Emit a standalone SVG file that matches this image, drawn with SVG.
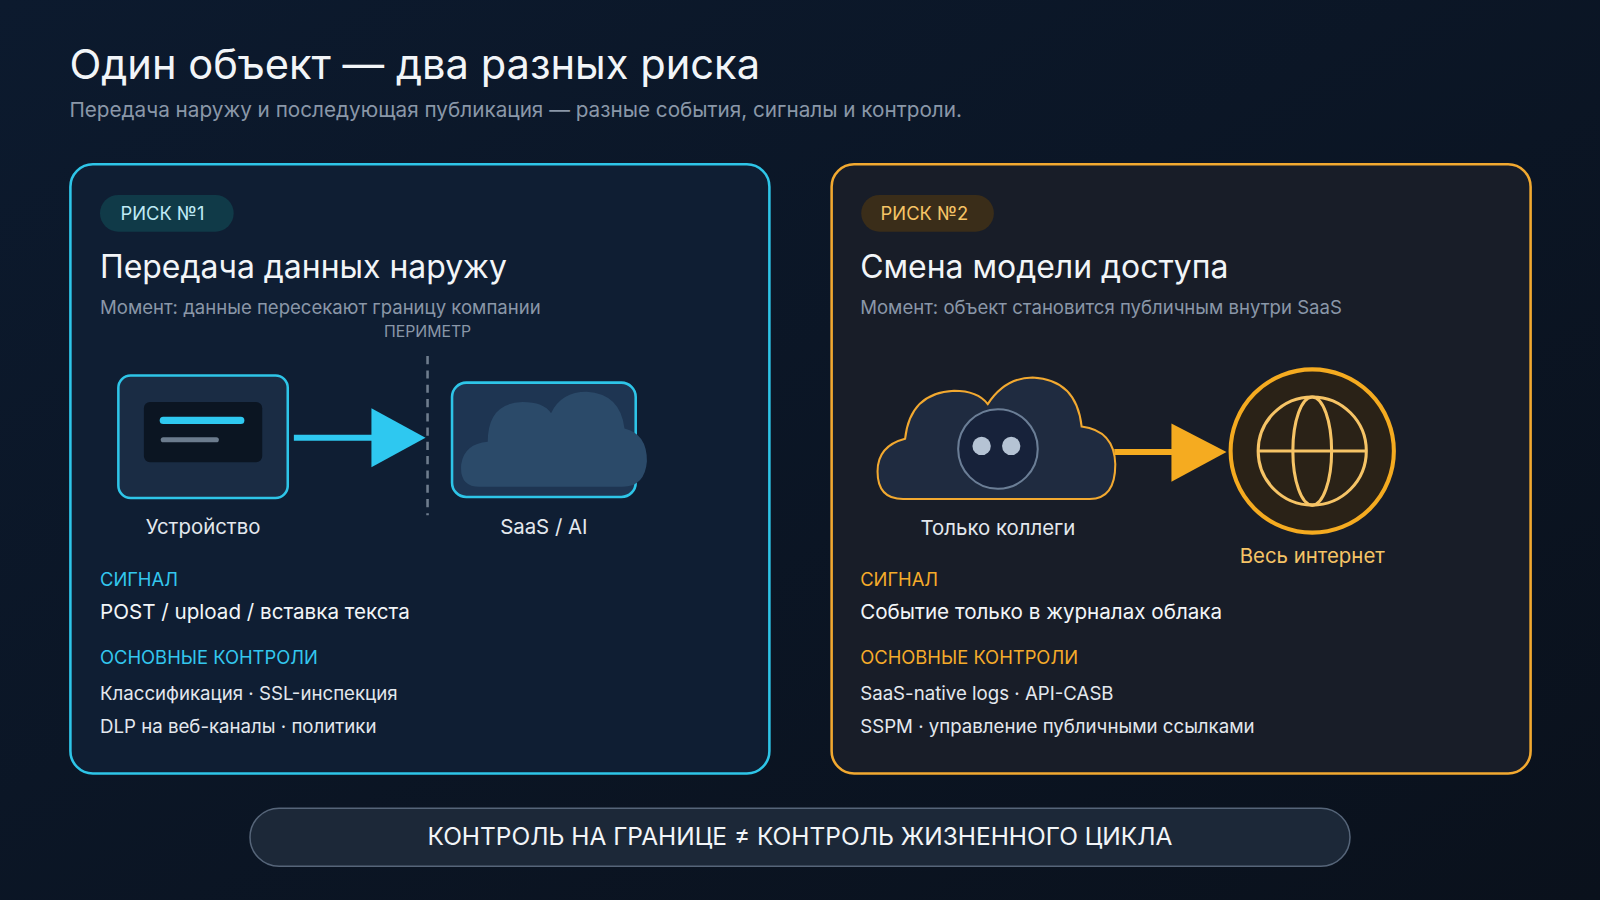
<svg xmlns="http://www.w3.org/2000/svg" width="1600" height="900" viewBox="0 0 1600 900">
<defs>
<linearGradient id="bg" x1="0" y1="0" x2="1" y2="1"><stop offset="0" stop-color="#0c1a2e"/><stop offset="1" stop-color="#0a111c"/></linearGradient>
<style>
text{font-family:"Inter","Liberation Sans",sans-serif}
.t{fill:#f2f5f8}.g{fill:#8a97a8}.c{fill:#33c7ee}.o{fill:#f5ab2a}.w{fill:#e3e8ee}
</style>
</defs>
<rect width="1600" height="900" fill="url(#bg)"/>
<g transform="scale(1.0204)">
<text x="68" y="77" font-size="40.8" class="t">Один объект — два разных риска</text>
<text x="68" y="115" font-size="20.3" class="g">Передача наружу и последующая публикация — разные события, сигналы и контроли.</text>

<g id="card1">
<rect x="69" y="161" width="685" height="597" rx="22" fill="#0f1e33" stroke="#2ec5e8" stroke-width="2.5"/>
<rect x="98" y="191" width="131" height="36" rx="18" fill="#103a48"/>
<text x="118" y="216" font-size="18" fill="#bfe9f5">РИСК №1</text>
<text x="98" y="272" font-size="31.3" class="t">Передача данных наружу</text>
<text x="98" y="308" font-size="18.2" class="g">Момент: данные пересекают границу компании</text>
<text x="419" y="330" font-size="15.5" class="g" text-anchor="middle">ПЕРИМЕТР</text>
<line x1="419" y1="349" x2="419" y2="505" stroke="#6f7d8e" stroke-width="2.5" stroke-dasharray="8 6"/>
<text x="98" y="574" font-size="18" class="c">СИГНАЛ</text>
<text x="98" y="607" font-size="20.2" class="t">POST / upload / вставка текста</text>
<text x="98" y="651" font-size="18" class="c">ОСНОВНЫЕ КОНТРОЛИ</text>
<text x="98" y="686" font-size="18.3" class="w">Классификация · SSL-инспекция</text>
<text x="98" y="718" font-size="18.3" class="w">DLP на веб-каналы · политики</text>
</g>
<g id="card2">
<rect x="815" y="161" width="685" height="597" rx="22" fill="#181d28" stroke="#f2a930" stroke-width="2.5"/>
<rect x="844" y="191" width="130" height="36" rx="18" fill="#3a2d19"/>
<text x="863" y="216" font-size="18" fill="#f6c466">РИСК №2</text>
<text x="843" y="272" font-size="31.3" class="t">Смена модели доступа</text>
<text x="843" y="308" font-size="18.2" class="g">Момент: объект становится публичным внутри SaaS</text>
<text x="843" y="574" font-size="18" class="o">СИГНАЛ</text>
<text x="843" y="607" font-size="20.2" class="t">Событие только в журналах облака</text>
<text x="843" y="651" font-size="18" class="o">ОСНОВНЫЕ КОНТРОЛИ</text>
<text x="843" y="686" font-size="18.3" class="w">SaaS-native logs · API-CASB</text>
<text x="843" y="718" font-size="18.3" class="w">SSPM · управление публичными ссылками</text>
</g>
<g id="device">
<rect x="116" y="368" width="166" height="120" rx="12" fill="#1a2c44" stroke="#2ec5e8" stroke-width="2.5"/>
<rect x="141" y="394" width="116" height="59" rx="6" fill="#0b1522"/>
<line x1="160" y1="412" x2="236" y2="412" stroke="#2ec8f0" stroke-width="7" stroke-linecap="round"/>
<line x1="160" y1="431" x2="212" y2="431" stroke="#6c7c8e" stroke-width="5" stroke-linecap="round"/>
<text x="199" y="523" font-size="20" class="w" text-anchor="middle">Устройство</text>
</g>
<g id="saas">
<rect x="443" y="375" width="180" height="112" rx="14" fill="#1e3552" stroke="#2ec5e8" stroke-width="2.5"/>
<path d="M470 477 Q450 477 452 455 Q455 435 478 433 Q478 395 512 394 Q533 394 540 405 Q550 384 575 384 Q608 386 612 420 Q634 425 634 452 Q632 477 610 477 Z" fill="#2b4a69"/>
<text x="533" y="523" font-size="20" class="w" text-anchor="middle">SaaS / AI</text>
</g>
<g id="cloud2">
<path d="M885 489 Q860 489 860 462 Q860 437 887 430 Q892 385 935 383 Q958 383 968 396 Q985 370 1012 370 Q1055 372 1060 418 Q1092 422 1093 455 Q1093 489 1068 489 Z" fill="#1f2b40" stroke="#f2a930" stroke-width="2"/>
<circle cx="978" cy="440" r="39" fill="#17223a" stroke="#6b7e96" stroke-width="2"/>
<circle cx="962" cy="437" r="9" fill="#b5c3d4"/>
<circle cx="991" cy="437" r="9" fill="#b5c3d4"/>
<text x="978" y="524" font-size="20" class="w" text-anchor="middle">Только коллеги</text>
</g>
<g id="globe">
<circle cx="1286" cy="442" r="80" fill="#2a2217" stroke="#f5ab20" stroke-width="4"/>
<circle cx="1286" cy="442" r="53" fill="none" stroke="#f6c466" stroke-width="3"/>
<ellipse cx="1286" cy="442" rx="19" ry="53" fill="none" stroke="#f6c466" stroke-width="3"/>
<line x1="1233" y1="442" x2="1339" y2="442" stroke="#f6c466" stroke-width="3"/>
<text x="1286" y="552" font-size="20" fill="#f6c466" text-anchor="middle">Весь интернет</text>
</g>
<g id="connectors">
<line x1="288" y1="429" x2="368" y2="429" stroke="#2ec8f0" stroke-width="6"/>
<polygon points="364,400 417,429 364,458" fill="#2ec8f0"/>
<line x1="1092" y1="443" x2="1152" y2="443" stroke="#f5ab20" stroke-width="6"/>
<polygon points="1148,415 1202,443 1148,472" fill="#f5ab20"/>
</g>
<g id="footer">
<rect x="245" y="792" width="1078" height="57" rx="28.5" fill="#1c2838" stroke="#566579" stroke-width="1.5"/>
<text x="784" y="828" font-size="24" class="t" text-anchor="middle">КОНТРОЛЬ НА ГРАНИЦЕ ≠ КОНТРОЛЬ ЖИЗНЕННОГО ЦИКЛА</text>
</g>
</g>
</svg>
